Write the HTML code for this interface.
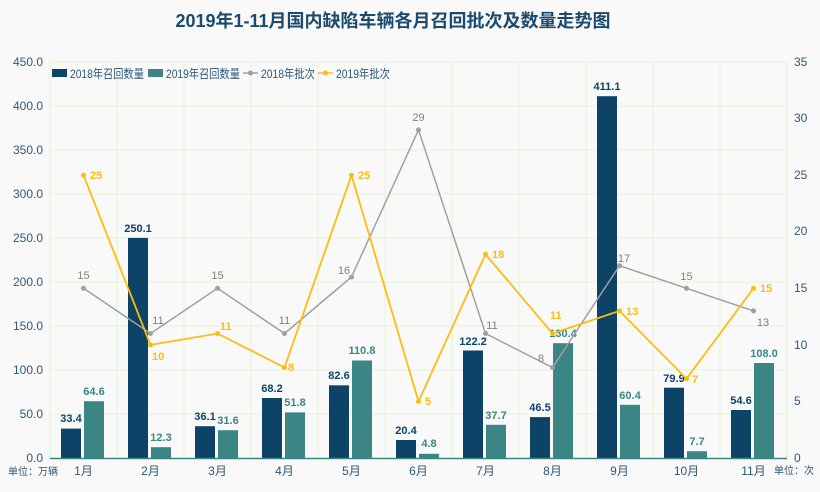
<!DOCTYPE html>
<html><head><meta charset="utf-8"><style>
html,body{margin:0;padding:0;background:#f9f9f9;}
svg{display:block;font-family:"Liberation Sans","Noto Sans CJK SC",sans-serif;}
</style></head><body>
<svg width="820" height="492" viewBox="0 0 820 492" xmlns="http://www.w3.org/2000/svg">
<rect width="820" height="492" fill="#f9f9f9"/>
<text x="393" y="27" text-anchor="middle" font-size="18" font-weight="bold" fill="#1c4a6e">2019年1-11月国内缺陷车辆各月召回批次及数量走势图</text>
<g stroke="#e4f2cf" stroke-width="1">
<line x1="50" y1="62" x2="787" y2="62"/><line x1="50" y1="106" x2="787" y2="106"/><line x1="50" y1="150" x2="787" y2="150"/><line x1="50" y1="194" x2="787" y2="194"/><line x1="50" y1="238" x2="787" y2="238"/><line x1="50" y1="282" x2="787" y2="282"/><line x1="50" y1="326" x2="787" y2="326"/><line x1="50" y1="370" x2="787" y2="370"/><line x1="50" y1="414" x2="787" y2="414"/>
<line x1="50" y1="62" x2="50" y2="458"/><line x1="117" y1="62" x2="117" y2="458"/><line x1="184" y1="62" x2="184" y2="458"/><line x1="251" y1="62" x2="251" y2="458"/><line x1="318" y1="62" x2="318" y2="458"/><line x1="385" y1="62" x2="385" y2="458"/><line x1="452" y1="62" x2="452" y2="458"/><line x1="519" y1="62" x2="519" y2="458"/><line x1="586" y1="62" x2="586" y2="458"/><line x1="653" y1="62" x2="653" y2="458"/><line x1="720" y1="62" x2="720" y2="458"/><line x1="787" y1="62" x2="787" y2="458"/>
</g>
<g font-size="12" fill="#2f5878" text-anchor="end">
<text x="43" y="66">450.0</text><text x="43" y="110">400.0</text><text x="43" y="154">350.0</text><text x="43" y="198">300.0</text><text x="43" y="242">250.0</text><text x="43" y="286">200.0</text><text x="43" y="330">150.0</text><text x="43" y="374">100.0</text><text x="43" y="418">50.0</text><text x="43" y="462">0.0</text>
</g>
<g font-size="12" fill="#2f5878" text-anchor="start">
<text x="794" y="66">35</text><text x="794" y="122">30</text><text x="794" y="179">25</text><text x="794" y="235">20</text><text x="794" y="292">15</text><text x="794" y="349">10</text><text x="794" y="405">5</text><text x="794" y="462">0</text>
</g>
<g fill="#0d4367">
<rect x="61" y="428.6" width="20" height="29.4"/><rect x="128" y="237.9" width="20" height="220.1"/><rect x="195" y="426.2" width="20" height="31.8"/><rect x="262" y="398" width="20" height="60"/><rect x="329" y="385.3" width="20" height="72.7"/><rect x="396" y="440" width="20" height="18"/><rect x="463" y="350.5" width="20" height="107.5"/><rect x="530" y="417.1" width="20" height="40.9"/><rect x="597" y="96.2" width="20" height="361.8"/><rect x="664" y="387.7" width="20" height="70.3"/><rect x="731" y="410" width="20" height="48"/>
</g>
<g fill="#3b8585">
<rect x="84" y="401.2" width="20" height="56.8"/><rect x="151" y="447.2" width="20" height="10.8"/><rect x="218" y="430.2" width="20" height="27.8"/><rect x="285" y="412.4" width="20" height="45.6"/><rect x="352" y="360.5" width="20" height="97.5"/><rect x="419" y="453.8" width="20" height="4.2"/><rect x="486" y="424.8" width="20" height="33.2"/><rect x="553" y="343.2" width="20" height="114.8"/><rect x="620" y="404.8" width="20" height="53.2"/><rect x="687" y="451.2" width="20" height="6.8"/><rect x="754" y="363" width="20" height="95"/>
</g>
<line x1="50" y1="458.5" x2="787" y2="458.5" stroke="#3b8585" stroke-width="1.5"/>
<g font-size="11" font-weight="bold" fill="#0d4367" text-anchor="middle">
<text x="71" y="422">33.4</text><text x="138" y="232">250.1</text><text x="205" y="420">36.1</text><text x="272" y="392">68.2</text><text x="339" y="379">82.6</text><text x="406" y="434">20.4</text><text x="473" y="345">122.2</text><text x="540" y="411">46.5</text><text x="607" y="90">411.1</text><text x="674" y="382">79.9</text><text x="741" y="404">54.6</text>
</g>
<g font-size="11" font-weight="bold" fill="#3b8585" text-anchor="middle">
<text x="94" y="395">64.6</text><text x="161" y="441">12.3</text><text x="228" y="424">31.6</text><text x="295" y="406">51.8</text><text x="362" y="354">110.8</text><text x="429" y="447">4.8</text><text x="496" y="419">37.7</text><text x="563" y="337">130.4</text><text x="630" y="399">60.4</text><text x="697" y="445">7.7</text><text x="764" y="357">108.0</text>
</g>
<polyline fill="none" stroke="#a0a0a0" stroke-width="1.5" points="83.5,288.3 150.5,333.5 217.5,288.3 284.5,333.5 351.5,277 418.5,129.9 485.5,333.5 552.5,367.5 619.5,265.7 686.5,288.3 753.5,310.9"/>
<g fill="#a0a0a0"><circle cx="83.5" cy="288.3" r="2.5"/><circle cx="150.5" cy="333.5" r="2.5"/><circle cx="217.5" cy="288.3" r="2.5"/><circle cx="284.5" cy="333.5" r="2.5"/><circle cx="351.5" cy="277" r="2.5"/><circle cx="418.5" cy="129.9" r="2.5"/><circle cx="485.5" cy="333.5" r="2.5"/><circle cx="552.5" cy="367.5" r="2.5"/><circle cx="619.5" cy="265.7" r="2.5"/><circle cx="686.5" cy="288.3" r="2.5"/><circle cx="753.5" cy="310.9" r="2.5"/></g>
<g font-size="11" fill="#808080" text-anchor="middle">
<text x="83.5" y="279">15</text><text x="158" y="324">11</text><text x="217.5" y="279">15</text><text x="284.5" y="324">11</text><text x="344" y="274">16</text><text x="418.5" y="121">29</text><text x="492" y="329">11</text><text x="541" y="362">8</text><text x="624" y="262">17</text><text x="686.5" y="280">15</text><text x="763" y="326">13</text>
</g>
<polyline fill="none" stroke="#fdbc10" stroke-width="1.8" points="83.5,175.2 150.5,344.9 217.5,333.5 284.5,367.5 351.5,175.2 418.5,401.4 485.5,254.3 552.5,333.5 619.5,310.9 686.5,378.8 753.5,288.3"/>
<g fill="#fdbc10"><circle cx="83.5" cy="175.2" r="2.5"/><circle cx="150.5" cy="344.9" r="2.5"/><circle cx="217.5" cy="333.5" r="2.5"/><circle cx="284.5" cy="367.5" r="2.5"/><circle cx="351.5" cy="175.2" r="2.5"/><circle cx="418.5" cy="401.4" r="2.5"/><circle cx="485.5" cy="254.3" r="2.5"/><circle cx="552.5" cy="333.5" r="2.5"/><circle cx="619.5" cy="310.9" r="2.5"/><circle cx="686.5" cy="378.8" r="2.5"/><circle cx="753.5" cy="288.3" r="2.5"/></g>
<g font-size="11" font-weight="bold" fill="#fdbc10" text-anchor="start">
<text x="90" y="179">25</text><text x="152" y="360">10</text><text x="220" y="330">11</text><text x="288" y="371">8</text><text x="358" y="179">25</text><text x="425" y="405">5</text><text x="492" y="258">18</text><text x="550" y="319">11</text><text x="626" y="315">13</text><text x="692" y="383">7</text><text x="760" y="292">15</text>
</g>
<g font-size="12" fill="#2f5878" text-anchor="middle">
<text x="83.5" y="475">1月</text><text x="150.5" y="475">2月</text><text x="217.5" y="475">3月</text><text x="284.5" y="475">4月</text><text x="351.5" y="475">5月</text><text x="418.5" y="475">6月</text><text x="485.5" y="475">7月</text><text x="552.5" y="475">8月</text><text x="619.5" y="475">9月</text><text x="686.5" y="475">10月</text><text x="753.5" y="475">11月</text>
</g>
<text x="8" y="475" font-size="10" fill="#2f5878">单位：万辆</text>
<text x="774" y="474" font-size="10" fill="#2f5878">单位：次</text>
<rect x="52" y="69" width="15" height="8" fill="#0d4367"/>
<text x="70" y="78" font-size="12" fill="#2f5878" textLength="74" lengthAdjust="spacingAndGlyphs">2018年召回数量</text>
<rect x="148" y="69" width="15" height="8" fill="#3b8585"/>
<text x="166" y="78" font-size="12" fill="#2f5878" textLength="74" lengthAdjust="spacingAndGlyphs">2019年召回数量</text>
<line x1="243" y1="73" x2="258" y2="73" stroke="#a0a0a0" stroke-width="1.5"/><circle cx="250.5" cy="73" r="2.5" fill="#a0a0a0"/>
<text x="261" y="78" font-size="12" fill="#2f5878" textLength="54" lengthAdjust="spacingAndGlyphs">2018年批次</text>
<line x1="318" y1="73" x2="333" y2="73" stroke="#fdbc10" stroke-width="1.5"/><circle cx="325.5" cy="73" r="2.5" fill="#fdbc10"/>
<text x="336" y="78" font-size="12" fill="#2f5878" textLength="54" lengthAdjust="spacingAndGlyphs">2019年批次</text>
</svg>
</body></html>
